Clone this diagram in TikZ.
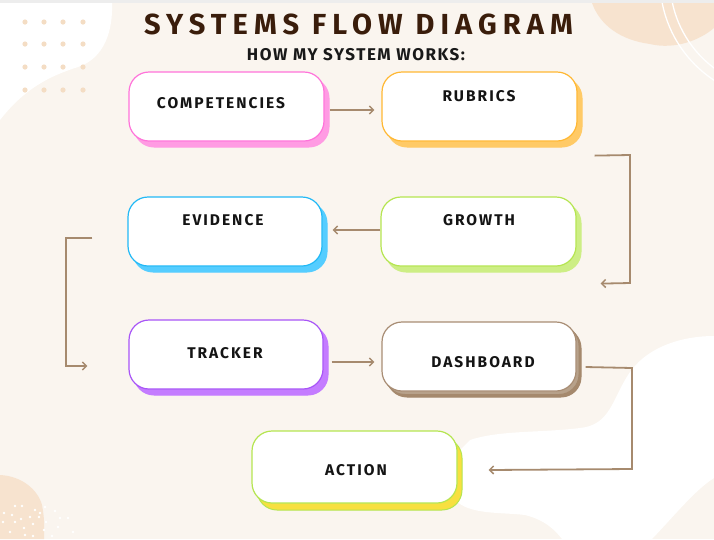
\documentclass[tikz,border=0pt]{standalone}
\usepackage{fontspec}
\setmainfont{Fira Sans}
\newfontfamily\titlefont[LetterSpace=21]{Fira Sans}
\newfontfamily\subfont[LetterSpace=9]{Fira Sans}
\newfontfamily\labfont[LetterSpace=13]{Fira Sans}
\usetikzlibrary{arrows.meta,calc}
\definecolor{bg}{HTML}{FAF5EF}
\definecolor{peach}{HTML}{F7E3CF}
\definecolor{dotc}{HTML}{F4DDC4}
\definecolor{titlec}{HTML}{3A1D0B}
\definecolor{pinkB}{HTML}{FF73DA}
\definecolor{pinkS}{HTML}{FF9BE3}
\definecolor{orB}{HTML}{FFB833}
\definecolor{orS}{HTML}{FFCA66}
\definecolor{blB}{HTML}{22B9F6}
\definecolor{blS}{HTML}{55CDFF}
\definecolor{liB}{HTML}{B5E550}
\definecolor{liS}{HTML}{CDEE85}
\definecolor{puB}{HTML}{A855F7}
\definecolor{puS}{HTML}{C47CFF}
\definecolor{brB}{HTML}{A88D74}
\definecolor{brS}{HTML}{A5896D}
\definecolor{yeS}{HTML}{F7E040}
\definecolor{arr}{HTML}{A68A6E}
\tikzset{
  card/.style={rectangle, rounded corners=20pt, minimum width=195pt, minimum height=69pt, fill=white, line width=1.2pt, draw, inner sep=0pt},
  shade/.style={rectangle, rounded corners=20pt, minimum width=195pt, minimum height=69pt, line width=1pt, inner sep=0pt},
  lab/.style={font=\labfont\bfseries\fontsize{15.5}{17}\selectfont, text=black!92, inner sep=0pt},
  flow/.style={draw=arr, line width=1.8pt, -{Straight Barb[length=4pt,width=8pt,line width=1.5pt]}},
}
\begin{document}
\begin{tikzpicture}[x=1pt,y=-1pt]
\useasboundingbox (0,0) rectangle (714,539);
% background
\fill[bg] (0,0) rectangle (714,539);
\fill[black!7] (0,0) rectangle (714,3);
% top-left white blob
\fill[white] (0,3) -- (112,3) .. controls (113,30) and (105,58) .. (78,67)
  .. controls (50,76) and (25,88) .. (0,120) -- cycle;
% dots top-left
\foreach \x in {25,44,63,83} \foreach \y in {22,44,67,90} \fill[dotc] (\x,\y) circle (2.6);
% top-right peach blob
\fill[peach] (592,3) .. controls (600,25) and (620,40) .. (650,44)
  .. controls (675,50) and (700,40) .. (714,28) -- (714,3) -- cycle;
% white arcs top-right
\begin{scope}
\clip (0,3) rectangle (714,539);
\draw[white, line width=1.3pt] (780,-20) circle (120);
\draw[white, line width=1.3pt] (780,-20) circle (110);
\end{scope}
% bottom-right white blob
\fill[white] (714,336) .. controls (680,336) and (645,348) .. (628,375)
  .. controls (612,400) and (610,425) .. (580,428)
  .. controls (540,433) and (500,430) .. (470,440)
  -- (450,460) -- (455,500)
  .. controls (470,515) and (500,512) .. (525,515)
  .. controls (545,520) and (555,530) .. (562,539)
  -- (652,539) .. controls (675,515) and (695,490) .. (714,478) -- cycle;
% bottom-left peach blob
\fill[peach] (0,475) .. controls (22,476) and (38,490) .. (42,505)
  .. controls (45,520) and (44,530) .. (44,539) -- (0,539) -- cycle;
\foreach \x/\y in {15/506, 22/506, 35/510, 4/513, 12/515, 21/519, 30/517, 3/522, 15/522, 24/528, 33/524, 40/513, 45/507, 46/522, 55/511, 60/518, 68/518, 58/527, 44/530, 10/532, 33/536, 52/536, 73/532, 25/535, 39/517}
  \fill[white] (\x,\y) circle (1.4);
% title
\node[font=\titlefont\bfseries\fontsize{29}{32}\selectfont, text=titlec, inner sep=0pt] (title) at (358.5,24) {SYSTEMS FLOW DIAGRAM};
\node[font=\subfont\bfseries\fontsize{17}{19}\selectfont, text=black!90, inner sep=0pt] (sub) at (356,55) {HOW MY SYSTEM WORKS:};
% cards: shadows
\node[shade, fill=pinkS, draw=pinkS] (compS) at (231.5,112.5) {};
\node[shade, fill=orS, draw=orS] (rubS) at (484.5,112.5) {};
\node[shade, minimum width=194pt, fill=blS, draw=blS] (evidS) at (230,237.5) {};
\node[shade, fill=liS, draw=liS] (growS) at (483.5,237.5) {};
\node[shade, minimum width=194pt, fill=puS, draw=puS] (trackS) at (231,360.5) {};
\node[shade, minimum width=194pt, fill=brS, draw=brS] (dashS) at (484,362.5) {};
\node[shade, minimum width=194pt, fill=brS!80, draw=brS] (dashS2) at (482,360) {};
\node[shade, minimum width=205pt, minimum height=72pt, fill=yeS, draw=liB] (actS) at (359.5,474) {};
% cards: fronts
\node[card, draw=pinkB] (comp) at (226.5,106.5) {};
\node[card, draw=orB] (rub) at (479.5,106.5) {};
\node[card, minimum width=194pt, draw=blB] (evid) at (225,231.5) {};
\node[card, draw=liB] (grow) at (478.5,231.5) {};
\node[card, minimum width=194pt, draw=puB] (track) at (226,354.5) {};
\node[card, minimum width=194pt, draw=brB] (dash) at (479,356.5) {};
\node[card, minimum width=205pt, minimum height=72pt, draw=liB] (act) at (354.5,467) {};
% labels
\node[lab] (compL) at (221,103.5) {COMPETENCIES};
\node[lab] (rubL) at (479,96) {RUBRICS};
\node[lab] (evidL) at (223,220) {EVIDENCE};
\node[lab] (growL) at (479,220) {GROWTH};
\node[lab] (trackL) at (225,353) {TRACKER};
\node[lab] (dashL) at (483,362) {DASHBOARD};
\node[lab] (actL) at (356,470) {ACTION};
% connector end points
\coordinate (r1) at ($(rub.south east)+(17,14)$);
\coordinate (g1) at ($(grow.south east)+(24,17)$);
\coordinate (e1) at ($(evid.west)+(-35,6.5)$);
\coordinate (t1) at ($(track.west)+(-41,11.5)$);
\coordinate (d1) at ($(dash.east)+(9,10.5)$);
\coordinate (a1) at ($(act.east)+(31,3)$);
% connectors
\draw[flow, shorten <=5pt, shorten >=7pt] (comp.east |- 0,110) -- (rub.west |- 0,110);
\draw[flow] (r1) -- (630,155) -- (630,283) -- (g1);
\draw[flow, shorten >=10pt] (grow.west |- 0,230) -- (evid.east |- 0,230);
\draw[flow] (e1) -- (66,238) -- (66,366) -- (t1);
\draw[flow, shorten <=8pt, shorten >=7pt] (track.east |- 0,362) -- (dash.west |- 0,362);
\draw[flow] (d1) -- (632,368) -- (632,469) -- (a1);
\end{tikzpicture}
\end{document}
